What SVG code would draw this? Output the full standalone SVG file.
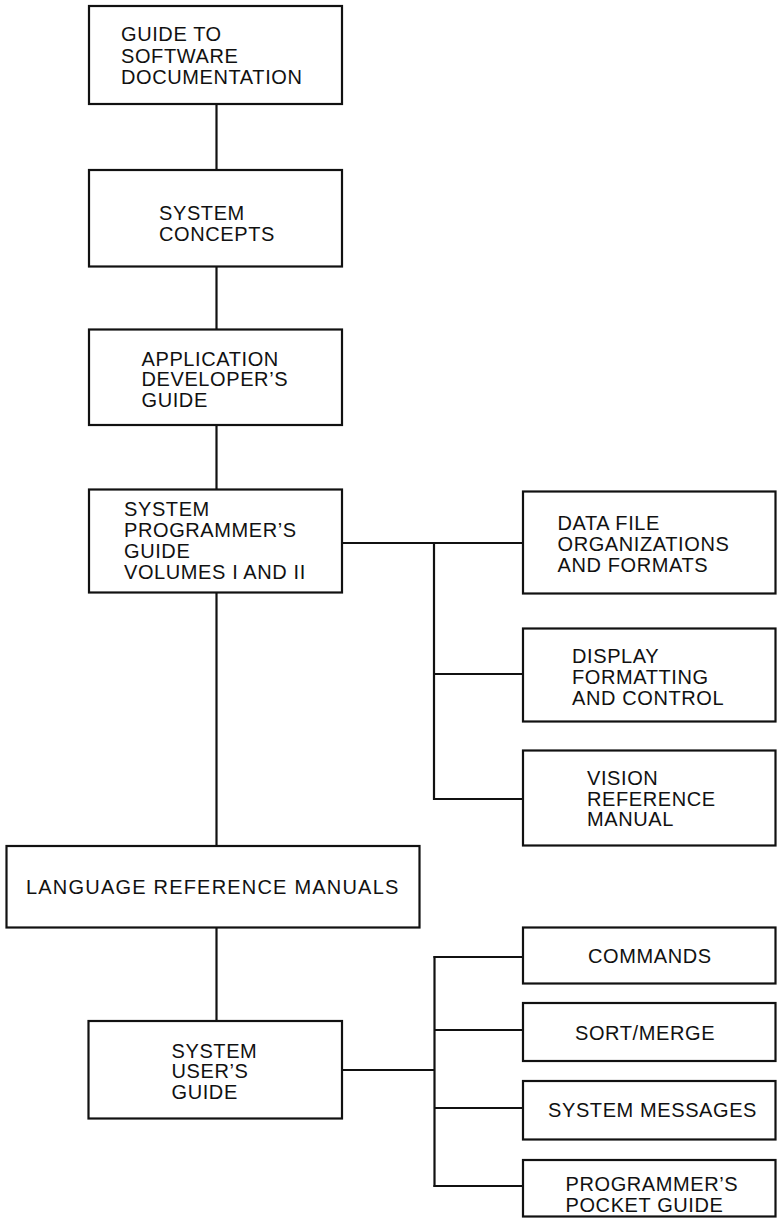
<svg xmlns="http://www.w3.org/2000/svg" width="777" height="1218" viewBox="0 0 777 1218">
<style>
rect.box{fill:#fff;stroke:#111;stroke-width:2.2}
.c line{stroke:#111;stroke-width:2.2}
text{font-family:"Liberation Sans",Arial,sans-serif;font-size:20px;fill:#111;letter-spacing:0.6px}
</style>
<rect width="777" height="1218" fill="#fff"/>
<g class="c" id="connectors">
<line x1="216.5" y1="104" x2="216.5" y2="170"/>
<line x1="216.5" y1="266.5" x2="216.5" y2="329.5"/>
<line x1="216.5" y1="425" x2="216.5" y2="489.5"/>
<line x1="216.5" y1="592.5" x2="216.5" y2="846"/>
<line x1="216.5" y1="927.5" x2="216.5" y2="1021"/>
<line x1="342" y1="543" x2="523" y2="543"/>
<line x1="434" y1="542" x2="434" y2="800"/>
<line x1="434" y1="674" x2="523" y2="674"/>
<line x1="433" y1="799" x2="523" y2="799"/>
<line x1="342" y1="1070" x2="434.5" y2="1070"/>
<line x1="434.5" y1="956" x2="434.5" y2="1187"/>
<line x1="433.5" y1="957" x2="523" y2="957"/>
<line x1="434.5" y1="1030" x2="523" y2="1030"/>
<line x1="434.5" y1="1108" x2="523" y2="1108"/>
<line x1="433.5" y1="1186" x2="523" y2="1186"/>
</g>
<g id="guide">
<rect class="box" x="89" y="6" width="253" height="98"/>
<text x="121" y="41">GUIDE TO</text>
<text x="121" y="62.5">SOFTWARE</text>
<text x="121" y="83.5">DOCUMENTATION</text>
</g>
<g id="concepts">
<rect class="box" x="89" y="170" width="253" height="96.5"/>
<text x="159" y="220">SYSTEM</text>
<text x="159" y="240.5">CONCEPTS</text>
</g>
<g id="appdev">
<rect class="box" x="89" y="329.5" width="253" height="95.5"/>
<text x="141.5" y="365.5">APPLICATION</text>
<text x="141.5" y="386">DEVELOPER’S</text>
<text x="141.5" y="406.5">GUIDE</text>
</g>
<g id="sysprog">
<rect class="box" x="89" y="489.5" width="253" height="103"/>
<text x="124" y="516">SYSTEM</text>
<text x="124" y="537">PROGRAMMER’S</text>
<text x="124" y="558">GUIDE</text>
<text x="124" y="578.5">VOLUMES I AND II</text>
</g>
<g id="datafile">
<rect class="box" x="523" y="491.5" width="252.5" height="102"/>
<text x="557.5" y="530">DATA FILE</text>
<text x="557.5" y="551">ORGANIZATIONS</text>
<text x="557.5" y="571.5">AND FORMATS</text>
</g>
<g id="display">
<rect class="box" x="523" y="628.5" width="252.5" height="93"/>
<text x="572" y="663">DISPLAY</text>
<text x="572" y="684">FORMATTING</text>
<text x="572" y="705">AND CONTROL</text>
</g>
<g id="vision">
<rect class="box" x="523" y="750.5" width="252.5" height="95"/>
<text x="587" y="784.5">VISION</text>
<text x="587" y="806">REFERENCE</text>
<text x="587" y="826">MANUAL</text>
</g>
<g id="language">
<rect class="box" x="6.5" y="846" width="413" height="81.5"/>
<text x="26" y="893.5" style="letter-spacing:1.2px">LANGUAGE REFERENCE MANUALS</text>
</g>
<g id="userguide">
<rect class="box" x="88.5" y="1021" width="253.5" height="97.5"/>
<text x="171.5" y="1057.5">SYSTEM</text>
<text x="171.5" y="1078">USER’S</text>
<text x="171.5" y="1098.5">GUIDE</text>
</g>
<g id="commands">
<rect class="box" x="523" y="927.5" width="252.5" height="56"/>
<text x="588" y="963">COMMANDS</text>
</g>
<g id="sortmerge">
<rect class="box" x="523" y="1003" width="252.5" height="58"/>
<text x="575" y="1040">SORT/MERGE</text>
</g>
<g id="messages">
<rect class="box" x="523" y="1081" width="252.5" height="58.5"/>
<text x="548" y="1117">SYSTEM MESSAGES</text>
</g>
<g id="pocket">
<rect class="box" x="523" y="1160" width="252.5" height="56.5"/>
<text x="565.5" y="1190.5">PROGRAMMER’S</text>
<text x="565.5" y="1211.5">POCKET GUIDE</text>
</g>
</svg>
